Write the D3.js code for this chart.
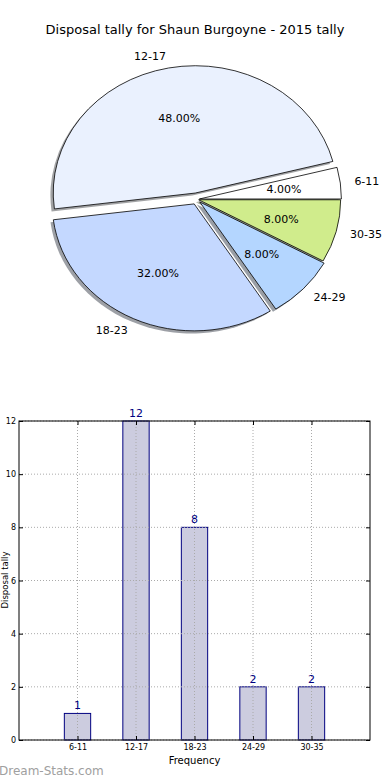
<!DOCTYPE html>
<html><head><meta charset="utf-8">
<script src="https://cdn.jsdelivr.net/npm/d3@7"></script>
<style>
html,body{margin:0;padding:0;background:#fff;}
svg{display:block;font-family:"DejaVu Sans",sans-serif;}
</style></head>
<body>
<svg id="c" width="390" height="780"></svg>
<script>
const title = "Disposal tally for Shaun Burgoyne - 2015 tally";
const categories = ["6-11", "12-17", "18-23", "24-29", "30-35"];
const counts = [1, 12, 8, 2, 2];
const pieColors = ["#ffffff", "#eaf1fe", "#c4d8ff", "#b4d6ff", "#d0ec8c"];
const explode = [0.02, 0.05, 0.04, 0.03, 0.015];
const yTicks = [0, 2, 4, 6, 8, 10, 12];
const xLabel = "Frequency";
const yLabel = "Disposal tally";
const watermark = "Dream-Stats.com";

const svg = d3.select("#c");

// ---------- Pie ----------
const cx = 196.6, cy = 199.3, rx = 142, ry = 127;
svg.append("text").attr("x", 195).attr("y", 34).attr("text-anchor", "middle")
  .attr("font-size", 13).attr("fill", "#000").text(title);

const total = d3.sum(counts);
const pie = d3.pie().sort(null).value(d => d).startAngle(Math.PI / 2).endAngle(Math.PI / 2 - 2 * Math.PI);
const arcs = pie(counts);
const arc = d3.arc().innerRadius(0).outerRadius(1);
const mathMid = a => Math.PI / 2 - (a.startAngle + a.endAngle) / 2;

const pg = svg.append("g").attr("transform", `translate(${cx},${cy}) scale(${rx},${ry})`);
// shadows
arcs.forEach((a, i) => {
  const m = mathMid(a);
  const ox = explode[i] * Math.cos(m), oy = -explode[i] * Math.sin(m);
  const c = d3.rgb(pieColors[i]);
  const sc = d3.rgb(c.r * 0.3, c.g * 0.3, c.b * 0.3);
  pg.append("path").attr("d", arc(a))
    .attr("transform", `translate(${ox - 0.02},${oy + 0.02})`)
    .attr("fill", sc.toString()).attr("fill-opacity", 0.5).attr("stroke", "none");
});
arcs.forEach((a, i) => {
  const m = mathMid(a);
  const ox = explode[i] * Math.cos(m), oy = -explode[i] * Math.sin(m);
  pg.append("path").attr("d", arc(a))
    .attr("transform", `translate(${ox},${oy})`)
    .attr("fill", pieColors[i]).attr("stroke", "#000").attr("stroke-width", 0.8)
    .attr("stroke-linejoin", "round")
    .attr("vector-effect", "non-scaling-stroke");
});
arcs.forEach((a, i) => {
  const m = mathMid(a);
  const c = Math.cos(m), s = Math.sin(m);
  const bx = cx + explode[i] * rx * c, by = cy - explode[i] * ry * s;
  svg.append("text").attr("x", bx + 1.1 * rx * c).attr("y", by - 1.1 * ry * s)
    .attr("dy", "0.35em").attr("text-anchor", c > 0 ? "start" : "end")
    .attr("font-size", 11).attr("fill", "#000").text(categories[i]);
  svg.append("text").attr("x", bx + 0.6 * rx * c).attr("y", by - 0.6 * ry * s)
    .attr("dy", "0.35em").attr("text-anchor", "middle")
    .attr("font-size", 11).attr("fill", "#000").text((counts[i] / total * 100).toFixed(2) + "%");
});

// ---------- Bar ----------
const L = 19, R = 370, T = 421, B = 740;
const x = d3.scaleLinear().domain([-1, 5]).range([L, R]);
const y = d3.scaleLinear().domain([0, 12]).range([B, T]);
const bw = 0.45;
const bg = svg.append("g");
bg.selectAll("rect.bar").data(counts).join("rect").attr("class", "bar")
  .attr("x", (d, i) => x(i - bw / 2)).attr("width", (d, i) => x(i + bw / 2) - x(i - bw / 2))
  .attr("y", d => y(d)).attr("height", d => B - y(d))
  .attr("fill", "#ccccdf").attr("stroke", "#000080").attr("stroke-width", 1);
// grid
yTicks.forEach(t => {
  bg.append("line").attr("x1", L).attr("x2", R).attr("y1", y(t)).attr("y2", y(t))
    .attr("stroke", "#aaa").attr("stroke-width", 1).attr("stroke-dasharray", "1,2");
});
categories.forEach((c, i) => {
  bg.append("line").attr("x1", x(i)).attr("x2", x(i)).attr("y1", T).attr("y2", B)
    .attr("stroke", "#aaa").attr("stroke-width", 1).attr("stroke-dasharray", "1,2");
});
// frame
bg.append("rect").attr("x", L).attr("y", T).attr("width", R - L).attr("height", B - T)
  .attr("fill", "none").attr("stroke", "#000").attr("stroke-width", 1);
// axes
const ya = d3.axisLeft(y).tickValues(yTicks).tickSize(-4).tickPadding(3).tickFormat(d3.format("d"));
const yg = svg.append("g").attr("transform", `translate(${L},0)`).call(ya);
yg.select(".domain").remove();
yg.selectAll("text").attr("font-size", 8).attr("font-family", "DejaVu Sans");
const ya2 = d3.axisRight(y).tickValues(yTicks).tickSize(-4).tickFormat("");
const yg2 = svg.append("g").attr("transform", `translate(${R},0)`).call(ya2);
yg2.select(".domain").remove();
const xa = d3.axisBottom(x).tickValues(d3.range(categories.length)).tickSize(-4).tickPadding(4)
  .tickFormat(i => categories[i]);
const xg = svg.append("g").attr("transform", `translate(0,${B})`).call(xa);
xg.select(".domain").remove();
xg.selectAll("text").attr("font-size", 8).attr("font-family", "DejaVu Sans");
const xa2 = d3.axisTop(x).tickValues(d3.range(categories.length)).tickSize(-4).tickFormat("");
const xg2 = svg.append("g").attr("transform", `translate(0,${T})`).call(xa2);
xg2.select(".domain").remove();
// value labels
bg.selectAll("text.val").data(counts).join("text").attr("class", "val")
  .attr("x", (d, i) => x(i)).attr("y", d => y(d) - 4).attr("text-anchor", "middle")
  .attr("font-size", 11).attr("fill", "#000080").text(d => d);
svg.append("text").attr("x", (L + R) / 2).attr("y", 764).attr("text-anchor", "middle")
  .attr("font-size", 10).attr("fill", "#000").text(xLabel);
svg.append("text").attr("transform", `translate(8,580) rotate(-90)`).attr("text-anchor", "middle")
  .attr("font-size", 8.5).attr("fill", "#000").text(yLabel);
svg.append("text").attr("x", -1).attr("y", 775).attr("font-size", 12)
  .attr("font-family", "DejaVu Sans").attr("font-weight", "normal")
  .attr("fill", "#a0a0a0").text(watermark);
</script>
</body></html>
